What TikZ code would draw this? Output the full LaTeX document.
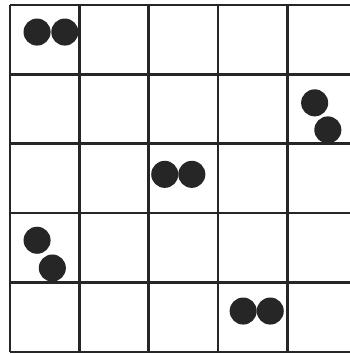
\documentclass[tikz,border=0pt]{standalone}
\begin{document}
\begin{tikzpicture}[scale=1.5,
    gridline/.style={line width=1.6pt,black!85},
    counter/.style={fill=black!85}]
  \useasboundingbox (-0.144,0.072) rectangle (4.899,-5.029);
  \draw[gridline] (0,0) -- (4.95,0);
  \draw[gridline] (0,-1) -- (4.95,-1);
  \draw[gridline] (0,-2) -- (4.95,-2);
  \draw[gridline] (0,-3) -- (4.95,-3);
  \draw[gridline] (0,-4) -- (4.95,-4);
  \draw[gridline] (0,-5) -- (4.95,-5);
  \draw[gridline] (0,0) -- (0,-5);
  \draw[gridline] (1,0) -- (1,-5);
  \draw[gridline] (2,0) -- (2,-5);
  \draw[gridline] (3,0) -- (3,-5);
  \draw[gridline] (4,0) -- (4,-5);
  \fill[counter] (0.39,-0.39) circle (0.195);
  \fill[counter] (0.79,-0.39) circle (0.195);
  \fill[counter] (4.39,-1.41) circle (0.195);
  \fill[counter] (4.58,-1.80) circle (0.195);
  \fill[counter] (2.23,-2.44) circle (0.195);
  \fill[counter] (2.62,-2.44) circle (0.195);
  \fill[counter] (0.39,-3.39) circle (0.195);
  \fill[counter] (0.61,-3.79) circle (0.195);
  \fill[counter] (3.36,-4.41) circle (0.195);
  \fill[counter] (3.75,-4.41) circle (0.195);
\end{tikzpicture}
\end{document}
